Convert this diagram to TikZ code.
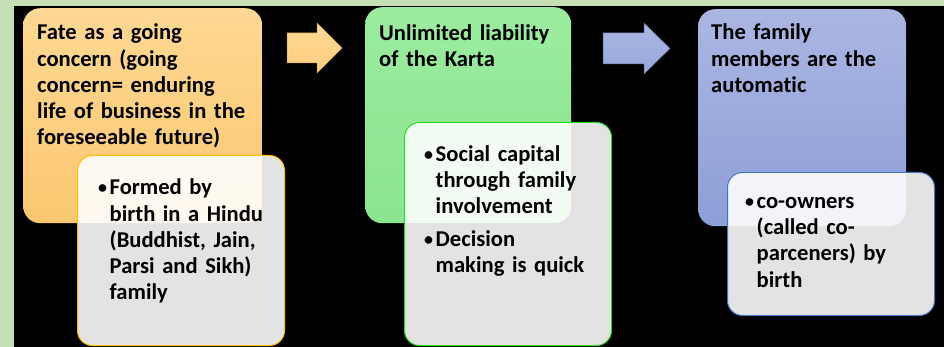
\documentclass[tikz,border=0pt]{standalone}
\usepackage{fontspec}
\setmainfont{Carlito}[Ligatures=NoCommon]
\definecolor{bggreen}{RGB}{197,224,180}
\definecolor{orT}{RGB}{255,216,148}
\definecolor{orB}{RGB}{251,199,112}
\definecolor{grT}{RGB}{156,236,160}
\definecolor{grB}{RGB}{138,228,144}
\definecolor{blT}{RGB}{171,182,226}
\definecolor{blB}{RGB}{141,159,216}
\definecolor{oaT}{RGB}{255,216,148}
\definecolor{oaB}{RGB}{255,206,128}
\definecolor{baT}{RGB}{172,184,227}
\definecolor{baB}{RGB}{150,167,219}
\definecolor{cOr}{RGB}{255,192,0}
\definecolor{cGr}{RGB}{40,215,40}
\definecolor{cBl}{RGB}{68,114,196}
\newcommand{\mybul}{\llap{\raisebox{1pt}{\fontsize{18}{18}\selectfont•}\hspace{2.5pt}}}
\begin{document}
\begin{tikzpicture}[x=1pt,y=-1pt,
  txt/.style={inner sep=0pt, anchor=base west, align=left, text width=300pt,
    font=\bfseries\fontsize{22.6}{26.2}\selectfont, text=black},
  parent/.style={anchor=north west, inner sep=0pt, rounded corners=17pt},
  child/.style={anchor=north west, inner sep=0pt, rounded corners=15pt,
    fill=white, fill opacity=0.89, draw opacity=1, line width=1pt},
  blockarrow/.style={line width=0.5pt}
]
\useasboundingbox (0,0) rectangle (944,347);
\fill[bggreen] (0,0) rectangle (944,347);
\fill[black] (14,6) rectangle (944,347);

% parent boxes
\node[parent, top color=orT, bottom color=orB, minimum width=239pt, minimum height=215pt] (p1) at (23,8) {};
\node[parent, top color=grT, bottom color=grB, minimum width=206pt, minimum height=216pt] (p2) at (365,7) {};
\node[parent, top color=blT, bottom color=blB, minimum width=208pt, minimum height=217pt] (p3) at (698,9) {};

% block arrows
\filldraw[blockarrow, top color=oaT, bottom color=oaB, draw=orB!80!black]
  (287,33) -- (317,33) -- (317,23) -- (342,48) -- (317,73) -- (317,63) -- (287,63) -- cycle;
\filldraw[blockarrow, top color=baT, bottom color=baB, draw=blB!70!black]
  (603,33) -- (644,33) -- (644,23) -- (670,48.5) -- (644,74) -- (644,64) -- (603,64) -- cycle;

% parent texts
\node[txt] (t1) at (37,40) {Fate as a going\\concern (going\\concern= enduring\\life of business in the\\foreseeable future)};
\node[txt] (t2) at (379,40.5) {Unlimited liability\\of the Karta};
\node[txt] (t3) at (711,40) {The family\\members are the\\automatic};

% child boxes
\node[child, draw=cOr, minimum width=207pt, minimum height=190pt] (c1) at (77,155) {};
\node[child, draw=cGr, minimum width=207pt, minimum height=223pt] (c2) at (404,122) {};
\node[child, draw=cBl, minimum width=207pt, minimum height=143pt] (c3) at (727,172) {};

% child texts
\node[txt] (s1) at (109.5,195) {\mybul Formed by\\birth in a Hindu\\(Buddhist, Jain,\\Parsi and Sikh)\\family};
\node[txt] (s2a) at (435.5,161.5) {\mybul Social capital\\through family\\involvement};
\node[txt] (s2b) at (435.5,246.5) {\mybul Decision\\making is quick};
\node[txt] (s3) at (756.5,208.5) {\mybul co-owners\\(called co-\\parceners) by\\birth};
\end{tikzpicture}
\end{document}
